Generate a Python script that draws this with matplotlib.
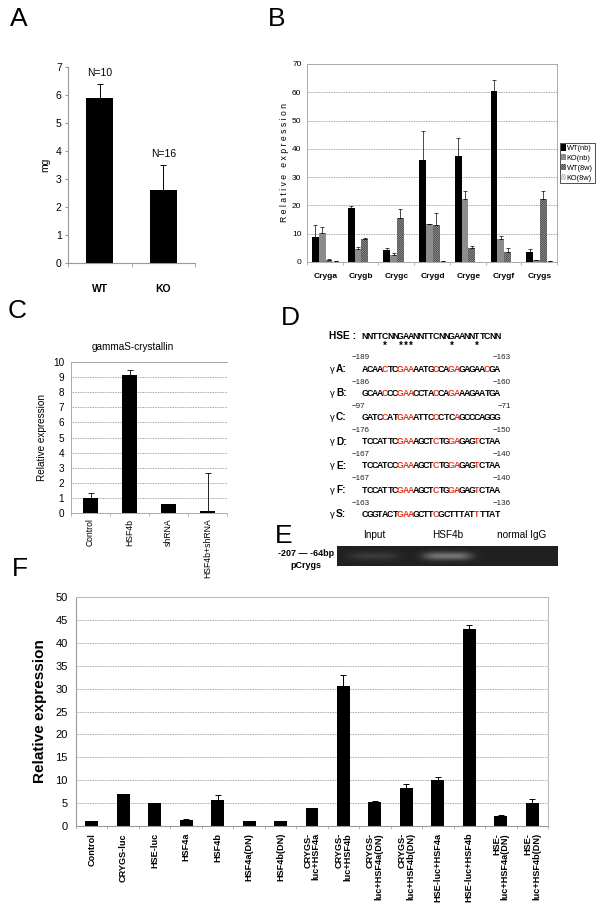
import numpy as np
import matplotlib
matplotlib.use('Agg')
import matplotlib.pyplot as plt
from matplotlib import font_manager

# ---------------- data ----------------
# Panel A
a_groups = ['WT', 'KO']
a_mean = [5.9, 2.6]
a_err = [0.5, 0.9]
a_n = ['N=10', 'N=16']

# Panel B
b_genes = ['Cryga', 'Crygb', 'Crygc', 'Crygd', 'Cryge', 'Crygf', 'Crygs']
b_series = ['WT(nb)', 'KO(nb)', 'WT(8w)', 'KO(8w)']
b_wt_nb = [9.0, 19.0, 4.2, 36.0, 37.5, 60.5, 3.5]
b_wt_nb_err = [4.0, 0.8, 0.9, 10.3, 6.3, 3.8, 1.0]
b_ko_nb = [10.2, 4.7, 2.5, 13.4, 22.2, 8.2, 0.6]
b_ko_nb_err = [2.3, 0.6, 0.7, 0.2, 2.8, 1.0, 0.1]
b_wt_8w = [0.8, 8.3, 15.5, 13.0, 4.8, 3.5, 22.2]
b_wt_8w_err = [0.1, 0.1, 3.2, 4.2, 0.7, 1.3, 3.0]
b_ko_8w = [0.2, 0.1, 0.1, 0.2, 0.1, 0.1, 0.2]
b_ko_8w_err = [0.0, 0.0, 0.0, 0.0, 0.0, 0.0, 0.0]

# Panel C
c_title = 'gammaS-crystallin'
c_groups = ['Control', 'HSF4b', 'shRNA', 'HSF4b+shRNA']
c_mean = [1.0, 9.15, 0.6, 0.1]
c_err = [0.35, 0.3, 0.0, 2.57]

# Panel D
d_hse = 'NNTTCNNGAANNTTCNNGAANNTTCNN'
d_stars = [4, 7, 8, 9, 17, 22]
d_names = ['A', 'B', 'C', 'D', 'E', 'F', 'S']
d_seqs = ['ACAACTCGAAAATGCCAGAGAGAACGA',
          'GCAACCCGAACCTACCAGAAAGAATGA',
          'GATCCATGAAATTCCCTCAGCCCAGGG',
          'TCCATTCGAAAGCTCTGGAGAGTCTAA',
          'TCCATCCGAAAGCTCTGGAGAGTCTAA',
          'TCCATTCGAAAGCTCTGGAGAGTCTAA',
          'CGGTACTGAAGCTTCGCTTTATTTTAT']
d_red = [[4, 7, 8, 9, 14, 17, 18, 24],
         [4, 7, 8, 9, 14, 17, 18],
         [4, 7, 8, 9, 14, 18],
         [7, 8, 9, 14, 17, 18, 22],
         [7, 8, 9, 14, 17, 18, 22],
         [7, 8, 9, 14, 17, 18, 22],
         [7, 8, 9, 14, 22]]
d_start = ['\u2212189', '\u2212186', '\u221297', '\u2212176', '\u2212167', '\u2212167', '\u2212163']
d_end = ['\u2212163', '\u2212160', '\u221271', '\u2212150', '\u2212140', '\u2212140', '\u2212136']

# Panel E
e_lanes = ['Input', 'HSF4b', 'normal IgG']
e_band = [0.10, 0.33, 0.0]
e_label1 = '-207 \u2014 -64bp'
e_label2 = 'pCrygs'

# Panel F
f_groups = ['Control', 'CRYGS-luc', 'HSE-luc', 'HSF4a', 'HSF4b', 'HSF4a(DN)', 'HSF4b(DN)',
            'CRYGS-\nluc+HSF4a', 'CRYGS-\nluc+HSF4b', 'CRYGS-\nluc+HSF4a(DN)',
            'CRYGS-\nluc+HSF4b(DN)', 'HSE-luc+HSF4a', 'HSE-luc+HSF4b',
            'HSE-\nluc+HSF4a(DN)', 'HSE-\nluc+HSF4b(DN)']
f_mean = [1.1, 6.9, 5.0, 1.4, 5.6, 1.0, 1.05, 3.9, 30.6, 5.25, 8.2, 10.1, 43.0, 2.2, 5.0]
f_err = [0.05, 0.15, 0.05, 0.2, 1.2, 0.05, 0.1, 0.1, 2.3, 0.3, 1.0, 0.6, 0.95, 0.1, 0.85]

# ---------------- style ----------------
plt.rcParams['font.family'] = ['Liberation Sans', 'DejaVu Sans']
plt.rcParams['hatch.linewidth'] = 0.7
available = {f.name for f in font_manager.fontManager.ttflist}
NARROW = ['Liberation Sans Narrow', 'Liberation Sans', 'DejaVu Sans'] if 'Liberation Sans Narrow' in available \
    else ['Liberation Sans', 'DejaVu Sans']

W, H = 600, 907
fig = plt.figure(figsize=(6, 9.07), dpi=100)


def rect(x0, y0, x1, y1):
    return [x0 / W, 1 - y1 / H, (x1 - x0) / W, (y1 - y0) / H]


def ftext(x, y, s, **kw):
    return fig.text(x / W, 1 - y / H, s, **kw)


EKW = dict(ecolor='black', elinewidth=0.7, capsize=2.0, capthick=0.7)


def upper_err(ax, x, y, e, **kw):
    ax.errorbar(x, y, yerr=[np.zeros(len(e)), e], fmt='none', **{**EKW, **kw})


# panel letters
for lab, x, y in [('A', 10, 19), ('B', 268, 19), ('C', 8, 311), ('D', 281, 318),
                  ('E', 275, 536), ('F', 12, 569)]:
    ftext(x, y, lab, fontsize=19, ha='left', va='center')

# ---------------- Panel A ----------------
axa = fig.add_axes(rect(68, 67, 195, 263))
xa = np.arange(len(a_groups)) + 0.5
axa.bar(xa, a_mean, width=0.42, color='black')
upper_err(axa, xa, a_mean, a_err, capsize=2.5)
for x, m, e, n in zip(xa, a_mean, a_err, a_n):
    axa.text(x, m + e + 0.22, n, ha='center', va='bottom', fontsize=7.5)
axa.set_xlim(0, len(a_groups))
axa.set_ylim(0, 7)
axa.set_yticks(range(0, 8))
axa.set_xticks(xa)
axa.set_xticklabels(a_groups, fontweight='bold', fontsize=7.5)
axa.set_xticks(np.arange(len(a_groups) + 1), minor=True)
axa.tick_params(axis='x', which='major', length=0, pad=15)
axa.tick_params(axis='x', which='minor', length=3, color='#999999')
axa.tick_params(axis='y', length=2.5, color='#999999', labelsize=7.5, pad=2)
for s in ['top', 'right']:
    axa.spines[s].set_visible(False)
for s in ['left', 'bottom']:
    axa.spines[s].set_color('#999999')
    axa.spines[s].set_linewidth(0.8)
axa.set_ylabel('mg', fontsize=7.5, labelpad=4)

# ---------------- Panel B ----------------
axb = fig.add_axes(rect(307, 64, 557, 262))
xb = np.arange(len(b_genes)) + 0.52
bw = 0.19
b_vals = [b_wt_nb, b_ko_nb, b_wt_8w, b_ko_8w]
b_errs = [b_wt_nb_err, b_ko_nb_err, b_wt_8w_err, b_ko_8w_err]
b_styles = [dict(color='black'),
            dict(color='#8c8c8c'),
            dict(facecolor='white', edgecolor='#3a3a3a', hatch='\\' * 18, linewidth=0),
            dict(facecolor='#e4e4e4', edgecolor='#b5b5b5', hatch='.' * 8, linewidth=0)]
for k, (name, v, e, st) in enumerate(zip(b_series, b_vals, b_errs, b_styles)):
    pos = xb + (k - 1.5) * bw
    axb.bar(pos, v, width=bw, label=name, **st)
    upper_err(axb, pos, v, e, elinewidth=0.5, capthick=0.5, capsize=1.3)
axb.set_xlim(0, len(b_genes))
axb.set_ylim(0, 70)
axb.set_yticks(range(0, 71, 10))
axb.yaxis.grid(True, linestyle=(0, (1, 1)), color='#888888', linewidth=0.6)
axb.set_axisbelow(True)
axb.set_xticks(xb)
axb.set_xticklabels(b_genes, fontweight='bold', fontsize=6)
axb.set_xticks(np.arange(len(b_genes) + 1), minor=True)
axb.tick_params(axis='x', which='major', length=0, pad=8)
axb.tick_params(axis='x', which='minor', length=2, color='#aaaaaa')
axb.tick_params(axis='y', length=0, labelsize=6, pad=4)
for s in axb.spines.values():
    s.set_color('#aaaaaa')
    s.set_linewidth(0.7)
axb.set_ylabel('R e l a t i v e   e x p r e s s i o n', fontsize=6.2, labelpad=2)
leg = axb.legend(loc='center left', bbox_to_anchor=(1.01, 0.5), fontsize=5.3, frameon=True,
                 fancybox=False, edgecolor='black', handlelength=0.6, handleheight=0.9,
                 handletextpad=0.15, borderpad=0.25, labelspacing=0.3, borderaxespad=0)
leg.get_frame().set_linewidth(0.6)

# ---------------- Panel C ----------------
axc = fig.add_axes(rect(71, 362, 227, 513))
xc = np.arange(len(c_groups)) + 0.5
axc.bar(xc, c_mean, width=0.41, color='black')
upper_err(axc, xc, c_mean, c_err, elinewidth=0.6, capthick=0.6)
axc.set_xlim(0, len(c_groups))
axc.set_ylim(0, 10)
axc.set_yticks(range(0, 11))
axc.yaxis.grid(True, linestyle=(0, (1, 1)), color='#888888', linewidth=0.6)
axc.set_axisbelow(True)
axc.set_xticks(xc)
axc.set_xticklabels(c_groups, rotation=90, fontsize=6.2, ha='center', va='top')
axc.set_xticks(np.arange(len(c_groups) + 1), minor=True)
axc.tick_params(axis='x', which='major', length=0, pad=4)
axc.tick_params(axis='x', which='minor', length=2, color='#aaaaaa')
axc.tick_params(axis='y', length=0, labelsize=7.2, pad=5)
for s in axc.spines.values():
    s.set_color('#aaaaaa')
    s.set_linewidth(0.7)
axc.spines['right'].set_visible(False)
axc.set_ylabel('Relative expression', fontsize=7.2, labelpad=4)
ftext(133, 347, c_title, fontsize=7.2, ha='center', va='center')

# ---------------- Panel D ----------------
x0_seq, pitch = 364.6, 5.11
ftext(329, 336, 'HSE :', fontsize=7.3, fontweight='bold', ha='left', va='center')
for i, ch in enumerate(d_hse):
    ftext(x0_seq + i * pitch, 336, ch, fontsize=6.3, fontweight='bold', family=NARROW,
          ha='center', va='center')
for i in d_stars:
    ftext(x0_seq + i * pitch, 346, '*', fontsize=7, fontweight='bold', ha='center', va='center')
for r, (nm, seq, red, st, en) in enumerate(zip(d_names, d_seqs, d_red, d_start, d_end)):
    yn = 358 + r * 24.2
    ys = 369 + r * 24.2
    ftext(352, yn, st, fontsize=5.8, ha='left', va='center', color='#222222')
    ftext(511, yn, en, fontsize=5.8, ha='right', va='center', color='#222222')
    ftext(330, ys, '\u03b3', fontsize=6.8, ha='left', va='center')
    ftext(336, ys, nm + ':', fontsize=7.3, fontweight='bold', ha='left', va='center')
    for i, ch in enumerate(seq):
        ftext(x0_seq + i * pitch, ys, ch, fontsize=6.3, fontweight='bold', family=NARROW,
              ha='center', va='center', color='#e8341c' if i in red else 'black')

# ---------------- Panel E ----------------
axe = fig.add_axes(rect(337, 546, 558, 566))
nx, ny = 221, 20
gx = (np.arange(nx) + 0.5) / nx
gy = (np.arange(ny) + 0.5) / ny
lane_c = (np.arange(len(e_lanes)) + 0.5) / len(e_lanes)
img = np.full((ny, nx), 0.13)
for c, amp in zip(lane_c, e_band):
    prof_x = np.exp(-((gx - c) / 0.11) ** 4)
    prof_y = np.exp(-((gy - 0.5) / 0.2) ** 2)
    img += amp * np.outer(prof_y, prof_x)
axe.imshow(img, cmap='gray', vmin=0, vmax=1, aspect='auto', extent=(0, 1, 0, 1),
           interpolation='bilinear')
axe.set_xticks(lane_c)
axe.set_xticklabels(e_lanes, fontsize=7.2)
axe.xaxis.tick_top()
axe.tick_params(axis='x', length=0, pad=4)
axe.set_yticks([])
for s in axe.spines.values():
    s.set_visible(False)
ftext(334, 553, e_label1, fontsize=6.5, fontweight='bold', ha='right', va='center')
ftext(306, 566, e_label2, fontsize=6.5, fontweight='bold', ha='center', va='center')

# ---------------- Panel F ----------------
axf = fig.add_axes(rect(76, 597, 548, 826))
xf = np.arange(len(f_groups)) + 0.5
axf.bar(xf, f_mean, width=0.41, color='black')
upper_err(axf, xf, f_mean, f_err)
axf.set_xlim(0, len(f_groups))
axf.set_ylim(0, 50)
axf.set_yticks(range(0, 51, 5))
axf.yaxis.grid(True, linestyle=(0, (1, 1)), color='#888888', linewidth=0.6)
axf.set_axisbelow(True)
axf.set_xticks(xf)
axf.set_xticklabels(f_groups, rotation=90, fontsize=6.6, fontweight='bold', ha='center',
                    va='top', multialignment='right', linespacing=0.95)
axf.set_xticks(np.arange(len(f_groups) + 1), minor=True)
axf.tick_params(axis='x', which='major', length=0, pad=5)
axf.tick_params(axis='x', which='minor', length=2.5, color='#aaaaaa')
axf.tick_params(axis='y', length=0, labelsize=8, pad=6)
for s in axf.spines.values():
    s.set_color('#bbbbbb')
    s.set_linewidth(0.8)
axf.spines['left'].set_color('#999999')
axf.spines['bottom'].set_color('#999999')
axf.set_ylabel('Relative expression', fontsize=11, fontweight='bold', labelpad=6)

fig.savefig('out.png', dpi=100)
